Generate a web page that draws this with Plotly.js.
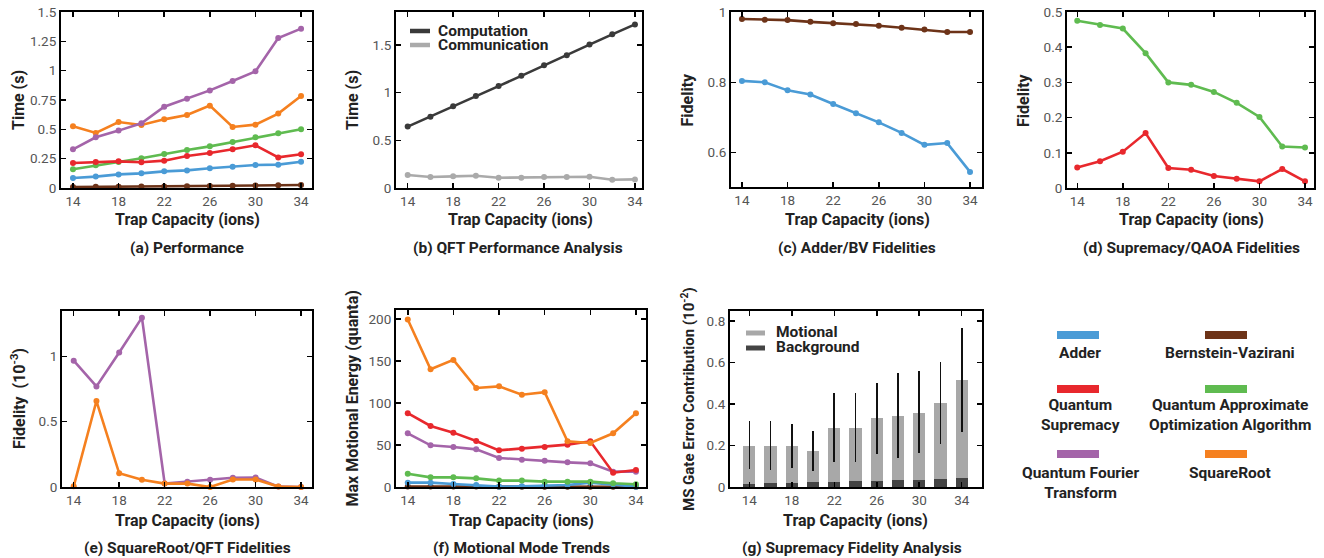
<!DOCTYPE html>
<html>
<head>
<meta charset="utf-8">
<script src="https://cdn.plot.ly/plotly-3.0.1.min.js"></script>
<style>html,body{margin:0;padding:0;background:#fff;}#chart{width:1324px;height:558px;}</style>
</head>
<body>
<div id="chart"></div>
<script>
// ---------- data ----------
const capacity = [14,16,18,20,22,24,26,28,30,32,34];
const xTickVals = [14,18,22,26,30,34];

const seriesNames = ['Adder','Bernstein-Vazirani','Quantum Supremacy','Quantum Approximate Optimization Algorithm','Quantum Fourier Transform','SquareRoot'];
const legendLabels = ['Adder','Bernstein-Vazirani','Quantum<br>Supremacy','Quantum Approximate<br>Optimization Algorithm','Quantum Fourier<br>Transform','SquareRoot'];

// (a) Performance, time (s)
const timeAdder      = [0.085,0.097,0.116,0.125,0.142,0.150,0.168,0.182,0.196,0.199,0.224];
const timeBV         = [0.008,0.010,0.011,0.012,0.013,0.015,0.017,0.019,0.021,0.023,0.025];
const timeSupremacy  = [0.213,0.222,0.227,0.219,0.233,0.273,0.298,0.330,0.364,0.261,0.287];
const timeQAOA       = [0.159,0.193,0.222,0.253,0.290,0.324,0.355,0.392,0.432,0.466,0.500];
const timeQFT        = [0.330,0.432,0.489,0.551,0.693,0.761,0.832,0.912,0.994,1.278,1.358];
const timeSqrt       = [0.526,0.469,0.562,0.537,0.585,0.622,0.702,0.520,0.540,0.634,0.784];

// (b) QFT performance analysis
const qftNames = ['Computation','Communication'];
const qftComputation   = [0.644,0.748,0.856,0.964,1.068,1.176,1.287,1.392,1.503,1.611,1.715];
const qftCommunication = [0.136,0.115,0.122,0.129,0.108,0.108,0.115,0.115,0.118,0.087,0.090];

// (c) Adder / BV fidelities
const fidBV    = [0.980,0.978,0.977,0.972,0.968,0.966,0.961,0.955,0.950,0.943,0.943];
const fidAdder = [0.804,0.800,0.777,0.765,0.738,0.712,0.686,0.656,0.622,0.627,0.545];

// (d) Supremacy / QAOA fidelities
const fidQAOA      = [0.475,0.463,0.453,0.383,0.300,0.293,0.273,0.242,0.202,0.118,0.115];
const fidSupremacy = [0.058,0.076,0.103,0.156,0.057,0.052,0.034,0.026,0.019,0.054,0.019];

// (e) SquareRoot / QFT fidelities (1e-3)
const fidQFT  = [0.967,0.770,1.030,1.296,0.027,0.040,0.056,0.071,0.073,0.003,0.000];
const fidSqrt = [0.005,0.658,0.105,0.056,0.026,0.026,0.000,0.057,0.057,0.003,0.000];

// (f) Max motional energy (quanta)
const motionSqrt      = [199.6,140.4,151.5,118.0,120.0,110.0,113.0,54.5,52.5,64.0,88.0];
const motionSupremacy = [88.0,72.8,64.8,54.9,43.7,45.7,47.7,50.5,54.5,17.0,20.3];
const motionQFT       = [64.0,49.7,47.7,44.9,34.6,32.6,31.4,29.4,28.2,18.3,18.3];
const motionQAOA      = [15.9,11.5,11.5,10.3,7.6,7.6,6.4,6.4,6.4,4.4,3.2];
const motionAdder     = [5.2,5.2,3.6,2.4,0.4,0.8,2.0,2.4,5.2,3.2,0.4];
const motionBV        = [0.6,0.6,0.5,0.5,0.4,0.4,0.4,0.4,0.4,0.3,0.3];

// (g) MS gate error contribution (1e-2)
const gateNames      = ['Motional','Background'];
const gateTotal      = [0.200,0.199,0.196,0.175,0.285,0.287,0.332,0.343,0.359,0.407,0.516];
const gateBackground = [0.016,0.018,0.021,0.022,0.026,0.027,0.030,0.034,0.035,0.038,0.042];
const gateUpper      = [0.316,0.317,0.303,0.269,0.452,0.452,0.503,0.548,0.559,0.604,0.769];
const gateLower      = [0.085,0.083,0.091,0.079,0.120,0.120,0.157,0.138,0.162,0.208,0.263];

const captions = ['(a) Performance','(b) QFT Performance Analysis','(c) Adder/BV Fidelities','(d) Supremacy/QAOA Fidelities','(e) SquareRoot/QFT Fidelities','(f) Motional Mode Trends','(g) Supremacy Fidelity Analysis'];
const yTitles = ['Time (s)','Time (s)','Fidelity','Fidelity','Fidelity  (10<sup>-3</sup>)','Max Motional Energy (quanta)','MS Gate Error Contribution (10<sup>-2</sup>)'];
const xTitle = 'Trap Capacity (ions)';

// ---------- styling ----------
const W = 1324, H = 558;
const FONT = 'Roboto, "DejaVu Sans", sans-serif';
const colors = {
  'Adder':'#4a9bd6','Bernstein-Vazirani':'#6d3318','Quantum Supremacy':'#e8282d',
  'Quantum Approximate Optimization Algorithm':'#5fbb50','Quantum Fourier Transform':'#a464a9','SquareRoot':'#f5801f'
};
const qftColors = ['#3a3a3a','#aaaaaa'];
const gateColors = ['#a8a8a8','#444444'];

// panel boxes in pixels: [x0, x1, y0(top), y1(bottom)]
const boxes = [
  [61,312,12,188],[396,642,12,188],[731,982,12,187],[1067,1314,12,188],
  [62,312,311,487],[396,646,310,487],[730,982,311,487]
];
const xRanges = [[12.95,34.96],[12.97,34.62],[13.04,35.05],[13.1,34.79],[12.97,34.96],[12.97,34.88],[12.18,35.91]];
const yRanges = [[0,1.5],[0,1.845],[0.502,1.0],[0,0.5],[0,1.347],[0,211],[0,0.849]];
const yDticks = [0.25,0.5,0.2,0.1,0.5,50,0.2];
const yTitleX = [18,352,687,1023,18,352,688];
const xTitleCx = [187,520,857,1191,187,521,855];
const captionCx = [187,518,857,1191,187,521,852];

const px = x => x / W;
const py = y => 1 - y / H;

function lineTrace(y, color, idx, name) {
  const s = idx === 1 ? '' : String(idx);
  return {
    x: capacity, y: y, type: 'scatter', mode: 'lines+markers', name: name,
    xaxis: 'x' + s, yaxis: 'y' + s, cliponaxis: false, showlegend: false,
    line: {color: color, width: 2.6}, marker: {color: color, size: 6}
  };
}

const traces = [];
// (a)
traces.push(lineTrace(timeBV, colors['Bernstein-Vazirani'], 1, seriesNames[1]));
traces.push(lineTrace(timeAdder, colors['Adder'], 1, seriesNames[0]));
traces.push(lineTrace(timeQAOA, colors['Quantum Approximate Optimization Algorithm'], 1, seriesNames[3]));
traces.push(lineTrace(timeSupremacy, colors['Quantum Supremacy'], 1, seriesNames[2]));
traces.push(lineTrace(timeSqrt, colors['SquareRoot'], 1, seriesNames[5]));
traces.push(lineTrace(timeQFT, colors['Quantum Fourier Transform'], 1, seriesNames[4]));
// (b)
traces.push(lineTrace(qftCommunication, qftColors[1], 2, qftNames[1]));
traces.push(lineTrace(qftComputation, qftColors[0], 2, qftNames[0]));
// (c)
traces.push(lineTrace(fidBV, colors['Bernstein-Vazirani'], 3, seriesNames[1]));
traces.push(lineTrace(fidAdder, colors['Adder'], 3, seriesNames[0]));
// (d)
traces.push(lineTrace(fidQAOA, colors['Quantum Approximate Optimization Algorithm'], 4, seriesNames[3]));
traces.push(lineTrace(fidSupremacy, colors['Quantum Supremacy'], 4, seriesNames[2]));
// (e)
traces.push(lineTrace(fidQFT, colors['Quantum Fourier Transform'], 5, seriesNames[4]));
traces.push(lineTrace(fidSqrt, colors['SquareRoot'], 5, seriesNames[5]));
// (f)
traces.push(lineTrace(motionBV, colors['Bernstein-Vazirani'], 6, seriesNames[1]));
traces.push(lineTrace(motionAdder, colors['Adder'], 6, seriesNames[0]));
traces.push(lineTrace(motionQAOA, colors['Quantum Approximate Optimization Algorithm'], 6, seriesNames[3]));
traces.push(lineTrace(motionQFT, colors['Quantum Fourier Transform'], 6, seriesNames[4]));
traces.push(lineTrace(motionSupremacy, colors['Quantum Supremacy'], 6, seriesNames[2]));
traces.push(lineTrace(motionSqrt, colors['SquareRoot'], 6, seriesNames[5]));
// (g) stacked bars
const gateMotional = gateTotal.map((t, i) => +(t - gateBackground[i]).toFixed(4));
traces.push({
  x: capacity, y: gateBackground, type: 'bar', name: gateNames[1], xaxis: 'x7', yaxis: 'y7',
  width: 1.15, marker: {color: gateColors[1]}, showlegend: false
});
traces.push({
  x: capacity, y: gateMotional, type: 'bar', name: gateNames[0], xaxis: 'x7', yaxis: 'y7',
  width: 1.15, marker: {color: gateColors[0]}, showlegend: false,
  error_y: {type: 'data', symmetric: false,
    array: gateUpper.map((u, i) => +(u - gateTotal[i]).toFixed(4)),
    arrayminus: gateTotal.map((t, i) => +(t - gateLower[i]).toFixed(4)),
    color: '#111', thickness: 1.6, width: 0}
});

const layout = {
  width: W, height: H, margin: {l: 0, r: 0, t: 0, b: 0},
  paper_bgcolor: '#fff', plot_bgcolor: '#fff', showlegend: false,
  barmode: 'stack', font: {family: FONT, color: '#222'},
  shapes: [], annotations: []
};

boxes.forEach((b, i) => {
  const s = i === 0 ? '' : String(i + 1);
  const common = {
    ticks: 'inside', ticklen: 5, tickwidth: 1.5, tickcolor: '#000',
    showline: true, linewidth: 2, linecolor: '#000', mirror: 'allticks',
    showgrid: false, zeroline: false, fixedrange: true,
    tickfont: {family: FONT, size: 13.5, color: '#555'}
  };
  layout['xaxis' + s] = Object.assign({}, common, {
    domain: [px(b[0]), px(b[1])], range: xRanges[i], anchor: 'y' + s,
    tickmode: 'array', tickvals: xTickVals
  });
  layout['yaxis' + s] = Object.assign({}, common, {
    domain: [py(b[3]), py(b[2])], range: yRanges[i], anchor: 'x' + s,
    tick0: 0, dtick: yDticks[i]
  });
  const row2 = i >= 4;
  layout.annotations.push({
    xref: 'paper', yref: 'paper', x: px(yTitleX[i]), y: py((b[2] + b[3]) / 2),
    text: '<b>' + yTitles[i] + '</b>', textangle: -90, showarrow: false,
    xanchor: 'center', yanchor: 'middle', font: {size: i === 6 ? 15 : 16, color: '#222'}
  });
  layout.annotations.push({
    xref: 'paper', yref: 'paper', x: px(xTitleCx[i]), y: py(row2 ? 520 : 219),
    text: '<b>' + xTitle + '</b>', showarrow: false,
    xanchor: 'center', yanchor: 'middle', font: {size: 16, color: '#222'}
  });
  layout.annotations.push({
    xref: 'paper', yref: 'paper', x: px(captionCx[i]), y: py(row2 ? 548 : 248),
    text: '<b>' + captions[i] + '</b>', showarrow: false,
    xanchor: 'center', yanchor: 'middle', font: {size: 15.5, color: '#222'}
  });
});

// in-panel legend (b)
qftNames.forEach((n, k) => {
  const yy = 31 + k * 14;
  layout.shapes.push({type: 'line', xref: 'paper', yref: 'paper',
    x0: px(410), x1: px(430), y0: py(yy), y1: py(yy), line: {color: qftColors[k], width: 4.5}});
  layout.annotations.push({xref: 'paper', yref: 'paper', x: px(436), y: py(yy),
    text: '<b>' + n + '</b>', showarrow: false, xanchor: 'left', yanchor: 'middle',
    font: {size: 15.5, color: '#222'}});
});
// in-panel legend (g)
gateNames.forEach((n, k) => {
  const yy = 333 + k * 15;
  layout.shapes.push({type: 'line', xref: 'paper', yref: 'paper',
    x0: px(746), x1: px(765), y0: py(yy), y1: py(yy), line: {color: gateColors[k], width: 5}});
  layout.annotations.push({xref: 'paper', yref: 'paper', x: px(774), y: py(yy - 1),
    text: '<b>' + n + '</b>', showarrow: false, xanchor: 'left', yanchor: 'middle',
    font: {size: 15.5, color: '#222'}});
});

// shared legend panel
const legCols = [1078, 1226];
const legTextCx = [1080, 1230];
const legSwatchY = [335, 389, 454];
const legTextTop = [342, 394, 462];
seriesNames.forEach((n, k) => {
  const col = k % 2, row = Math.floor(k / 2);
  layout.shapes.push({type: 'rect', xref: 'paper', yref: 'paper', line: {width: 0},
    x0: px(legCols[col] - 21), x1: px(legCols[col] + 21),
    y0: py(legSwatchY[row] + 4), y1: py(legSwatchY[row] - 4), fillcolor: colors[n]});
  layout.annotations.push({xref: 'paper', yref: 'paper', x: px(legTextCx[col]), y: py(legTextTop[row]),
    text: '<b>' + legendLabels[k] + '</b>', showarrow: false, xanchor: 'center', yanchor: 'top',
    align: 'center', font: {size: 15.5, color: '#222'}});
});

Plotly.newPlot('chart', traces, layout, {displayModeBar: false, staticPlot: true});
</script>
</body>
</html>
